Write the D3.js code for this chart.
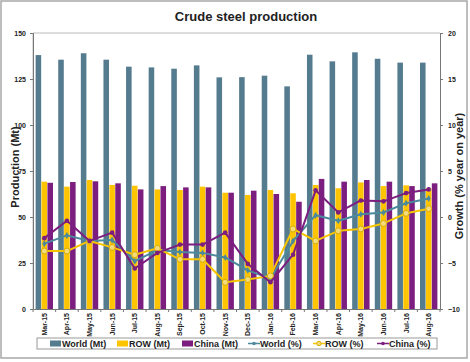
<!DOCTYPE html>
<html>
<head>
<meta charset="utf-8">
<script src="https://cdn.jsdelivr.net/npm/d3@7"></script>
<style>
	body { margin: 0; background: #fff; }
	svg text { font-family: "Liberation Sans", Arial, sans-serif; fill: #222; }
	.tick text { font-size: 7px; font-weight: bold; }
	.legend text { font-size: 9px; font-weight: bold; }
</style>
</head>
<body>
<svg id="chart" width="470" height="362"></svg>
<script>
"use strict";

var months = ['Mar-15', 'Apr-15', 'May-15', 'Jun-15', 'Jul-15', 'Aug-15', 'Sep-15', 'Oct-15', 'Nov-15',
	'Dec-15', 'Jan-16', 'Feb-16', 'Mar-16', 'Apr-16', 'May-16', 'Jun-16', 'Jul-16', 'Aug-16'];

// production, Mt
var worldMt = [138, 135.5, 139, 135.5, 131.7, 131.3, 130.6, 132.4, 125.9, 126, 126.8, 121, 138.2, 134.6, 139.5, 136, 133.9, 133.9];
var rowMt = [69.2, 66.5, 70.1, 67.4, 67, 65, 64.7, 66.5, 63.2, 62, 64.7, 62.9, 67.4, 65.6, 68.8, 66.8, 67.2, 65.6];
var chinaMt = [68.6, 69, 69.4, 68.3, 65, 66.8, 66.1, 66.1, 63.2, 64.3, 62.5, 58.3, 70.7, 69.2, 70.1, 69.2, 66.8, 68.3];

// growth, % year on year
var worldPct = [-2.9, -2.0, -2.6, -2.5, -4.8, -3.6, -3.8, -3.9, -4.4, -5.8, -6.7, -2.6, 0.2, -0.4, 0.3, 0.5, 1.5, 2.0];
var rowPct = [-3.7, -3.7, -2.6, -3.3, -4.1, -3.4, -4.6, -4.6, -7.1, -6.8, -6.4, -1.3, -2.6, -1.5, -1.3, -0.7, 0.4, 0.9];
var chinaPct = [-2.3, -0.4, -2.6, -1.7, -5.6, -3.9, -3.0, -3.0, -1.7, -5.1, -7.1, -4.1, 2.9, 0.5, 1.8, 1.7, 2.6, 3.0];

var leftTicks = [0, 25, 50, 75, 100, 125, 150];
var rightTicks = [-10, -5, 0, 5, 10, 15, 20];

var barSeries = [
	{name: 'World (Mt)', values: worldMt, color: '#557b8f'},
	{name: 'ROW (Mt)', values: rowMt, color: '#ffc400'},
	{name: 'China (Mt)', values: chinaMt, color: '#7c1d80'}
];
var lineSeries = [
	{name: 'World (%)', values: worldPct, color: '#4b8a9c', marker: 'diamond'},
	{name: 'ROW (%)', values: rowPct, color: '#f7c500', marker: 'open'},
	{name: 'China (%)', values: chinaPct, color: '#7c1d80', marker: 'dot'}
];

var svg = d3.select('#chart');
var plot = {left: 33, right: 440, top: 33, bottom: 309};

// outer frame
svg.append('rect').attr('x', 1).attr('y', 1).attr('width', 466).attr('height', 357).
	attr('fill', 'none').attr('stroke', '#a8a8a8').attr('stroke-width', 1.5);

var x = d3.scaleBand().domain(months).range([plot.left, plot.right]).paddingInner(0.2).paddingOuter(0.1);
var xs = d3.scaleBand().domain(barSeries.map(function(s) { return s.name; })).
	range([0, x.bandwidth()]).padding(0.06);
var yL = d3.scaleLinear().domain([0, 150]).range([plot.bottom, plot.top]);
var yR = d3.scaleLinear().domain([-10, 20]).range([plot.bottom, plot.top]);

// plot frame (top/left light grey)
svg.append('path').attr('d', 'M' + plot.left + ',' + plot.bottom + 'V' + plot.top + 'H' + plot.right).
	attr('fill', 'none').attr('stroke', '#bbb').attr('stroke-width', 1);

// bars
barSeries.forEach(function(s) {
	svg.append('g').selectAll('rect').data(s.values).join('rect').
		attr('x', function(d, i) { return x(months[i]) + xs(s.name); }).
		attr('y', function(d) { return yL(d); }).
		attr('width', xs.bandwidth()).
		attr('height', function(d) { return yL(0) - yL(d); }).
		attr('fill', s.color);
});

// lines
var cx = function(i) { return x(months[i]) + x.bandwidth() / 2; };
lineSeries.forEach(function(s) {
	var line = d3.line().x(function(d, i) { return cx(i); }).y(function(d) { return yR(d); });
	svg.append('path').datum(s.values).attr('d', line).attr('fill', 'none').
		attr('stroke', s.color).attr('stroke-width', 2).attr('stroke-linejoin', 'round');
	var g = svg.append('g');
	if (s.marker === 'diamond') {
		g.selectAll('path').data(s.values).join('path').
			attr('d', d3.symbol(d3.symbolDiamond, 14)).
			attr('transform', function(d, i) { return 'translate(' + cx(i) + ',' + yR(d) + ')'; }).
			attr('fill', s.color);
	} else if (s.marker === 'open') {
		g.selectAll('circle').data(s.values).join('circle').
			attr('cx', function(d, i) { return cx(i); }).attr('cy', function(d) { return yR(d); }).
			attr('r', 3).attr('fill', '#f5dc7a').attr('stroke', '#d9ad00').attr('stroke-width', 1);
	} else {
		g.selectAll('circle').data(s.values).join('circle').
			attr('cx', function(d, i) { return cx(i); }).attr('cy', function(d) { return yR(d); }).
			attr('r', 2.3).attr('fill', s.color);
	}
});

// axes
var axL = svg.append('g').attr('transform', 'translate(' + plot.left + ',0)').
	call(d3.axisLeft(yL).tickValues(leftTicks).tickSize(3).tickPadding(4));
var axR = svg.append('g').attr('transform', 'translate(' + plot.right + ',0)').
	call(d3.axisRight(yR).tickValues(rightTicks).tickSize(3).tickPadding(5));
var axB = svg.append('g').attr('transform', 'translate(0,' + plot.bottom + ')').
	call(d3.axisBottom(x).tickSize(0).tickPadding(4));
[axL, axR, axB].forEach(function(a) {
	a.select('.domain').attr('stroke', '#777');
	a.selectAll('.tick line').attr('stroke', '#777');
});
axB.selectAll('.tick text').attr('transform', 'rotate(-90)').attr('x', -4).attr('y', -3).
	attr('dy', '0.35em').style('text-anchor', 'end').attr('dx', 0);
axB.selectAll('.tick text').attr('y', 0);
// category separator ticks
svg.append('g').selectAll('line').data(months.concat(['end'])).join('line').
	attr('x1', function(d, i) { return i < months.length ? x(d) - x.step() * x.paddingInner() / 2 : plot.right; }).
	attr('x2', function(d, i) { return i < months.length ? x(d) - x.step() * x.paddingInner() / 2 : plot.right; }).
	attr('y1', plot.bottom).attr('y2', plot.bottom + 3).attr('stroke', '#777');

// titles
svg.append('text').attr('x', 246).attr('y', 21).attr('text-anchor', 'middle').
	style('font-size', '13px').style('font-weight', 'bold').text('Crude steel production');
svg.append('text').attr('transform', 'translate(15,167) rotate(-90)').attr('text-anchor', 'middle').
	attr('dy', '0.35em').style('font-size', '11px').style('font-weight', 'bold').text('Production (Mt)');
svg.append('text').attr('transform', 'translate(459,176) rotate(-90)').attr('text-anchor', 'middle').
	attr('dy', '0.35em').style('font-size', '11px').style('font-weight', 'bold').text('Growth (% year on year)');

// legend
var lg = svg.append('g').attr('class', 'legend');
lg.append('rect').attr('x', 37).attr('y', 338).attr('width', 400).attr('height', 11).
	attr('fill', '#fff').attr('stroke', '#999').attr('stroke-width', 1);
var legendX = [50, 117, 182, 248, 313, 377];
barSeries.concat(lineSeries).forEach(function(s, i) {
	var lx = legendX[i], ly = 343.5;
	if (i < 3) {
		lg.append('rect').attr('x', lx).attr('y', ly - 3).attr('width', 11).attr('height', 6).attr('fill', s.color);
	} else {
		lg.append('line').attr('x1', lx).attr('x2', lx + 12).attr('y1', ly).attr('y2', ly).
			attr('stroke', s.color).attr('stroke-width', 1.5);
		if (s.marker === 'open') {
			lg.append('circle').attr('cx', lx + 6).attr('cy', ly).attr('r', 2.2).
				attr('fill', '#f5dc7a').attr('stroke', '#d9ad00');
		} else {
			lg.append('circle').attr('cx', lx + 6).attr('cy', ly).attr('r', 1.8).attr('fill', s.color);
		}
	}
	lg.append('text').attr('x', lx + 12).attr('y', ly).attr('dy', '0.35em').text(s.name);
});
</script>
</body>
</html>
